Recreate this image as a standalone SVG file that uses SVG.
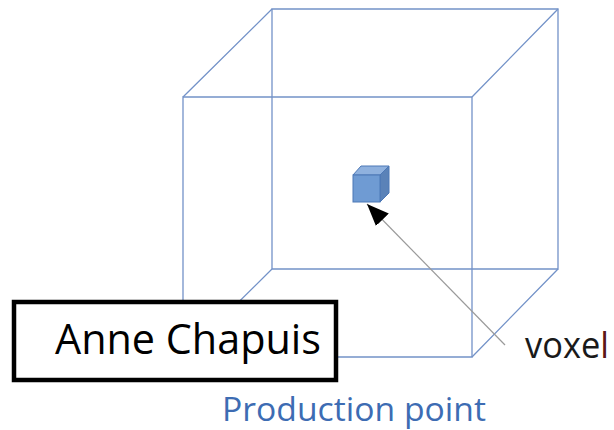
<svg xmlns="http://www.w3.org/2000/svg" width="614" height="430" viewBox="0 0 614 430">
<style>
.edge{fill:none;stroke:#7392c8;stroke-width:1.3}
.lbl{font-family:"Open Sans","Noto Sans",sans-serif}
</style>
<defs>
<marker id="ah" markerWidth="24" markerHeight="20" refX="22" refY="9" orient="auto" markerUnits="userSpaceOnUse">
<path d="M0,0 L22,9 L0,18 Z" fill="#000"/>
</marker>
</defs>
<rect width="614" height="430" fill="#fff"/>
<g id="big-cube">
<path class="edge" d="M272,9 H558 V269 H272 Z"/>
<path class="edge" d="M183,97 H472 V357 H183 Z"/>
<path class="edge" d="M272,9 L183,97 M558,9 L472,97 M558,269 L472,357 M272,269 L183,357"/>
</g>
<g id="voxel-cube">
<path d="M353,175 L361,166 H389 L380,175 Z" fill="#8fb1de" stroke="#4d78b6" stroke-width="1"/>
<path d="M380,175 L389,166 V193 L380,202 Z" fill="#5a82b8" stroke="#4d78b6" stroke-width="1"/>
<rect x="353" y="175" width="27" height="27" fill="#6f9bd3" stroke="#4d78b6" stroke-width="1"/>
</g>
<g id="connectors">
<line x1="505" y1="345" x2="367" y2="204" stroke="#9a9a9a" stroke-width="1.2" marker-end="url(#ah)"/>
</g>
<g id="name-box">
<rect x="14" y="302" width="322" height="78" fill="#fff" stroke="#000" stroke-width="4.5"/>
<text class="lbl" x="188" y="354" font-size="42" text-anchor="middle" textLength="266" lengthAdjust="spacingAndGlyphs" fill="#000">Anne Chapuis</text>
</g>
<g id="voxel-label">
<text class="lbl" x="525" y="358" font-size="37" textLength="84" lengthAdjust="spacingAndGlyphs" fill="#1a1a1a">voxe<tspan fill="#5a1818">l</tspan></text>
</g>
<g id="production-label">
<text class="lbl" x="222" y="421" font-size="32" textLength="264" lengthAdjust="spacingAndGlyphs" fill="#3d6cb3">Production point</text>
</g>
</svg>
